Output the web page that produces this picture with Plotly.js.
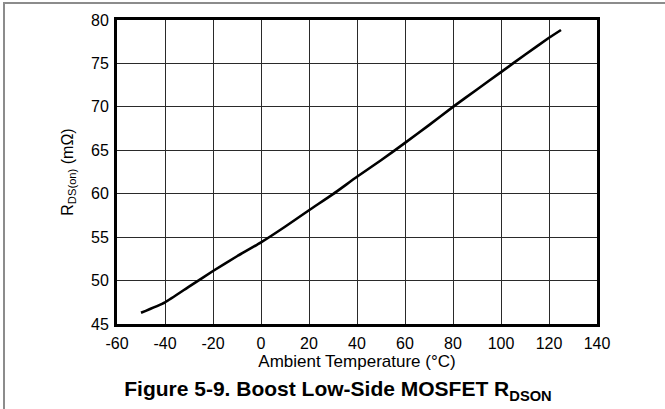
<!DOCTYPE html>
<html>
<head>
<meta charset="utf-8">
<script src="https://cdn.plot.ly/plotly-3.0.1.min.js"></script>
<style>
  html, body { margin: 0; padding: 0; background: #fff; }
  #wrap { position: relative; width: 665px; height: 409px; overflow: hidden; }
  #chart { position: absolute; left: 0; top: 0; width: 665px; height: 409px; }
  #frame { position: absolute; left: 3px; top: 2px; right: 0; bottom: 0;
           border-top: 2px solid #8c8c8c; border-left: 2px solid #8c8c8c;
           pointer-events: none; }
</style>
</head>
<body>
<div id="wrap">
  <div id="chart"></div>
  <div id="frame"></div>
</div>
<script>
// Ambient temperature (°C) and low-side MOSFET on-resistance (mΩ)
const temperature = [-50, -40, -30, -20, -10, 0, 10, 20, 30, 40, 50, 60, 70, 80, 90, 100, 110, 120, 125];
const rdsOn = [46.3, 47.5, 49.3, 51.1, 52.8, 54.4, 56.2, 58.1, 59.95, 61.95, 63.85, 65.85, 67.9, 70.0, 72.0, 74.0, 76.0, 77.95, 78.85];

const xTicks = [-60, -40, -20, 0, 20, 40, 60, 80, 100, 120, 140];
const yTicks = [45, 50, 55, 60, 65, 70, 75, 80];

const FONT = '"Liberation Sans", Arial, sans-serif';

const trace = {
  x: temperature,
  y: rdsOn,
  type: 'scatter',
  mode: 'lines',
  line: { color: '#000', width: 2.6, shape: 'spline', smoothing: 0.5 },
  hoverinfo: 'skip'
};

const axisCommon = {
  showline: true,
  mirror: true,
  linecolor: '#000',
  linewidth: 3,
  showgrid: true,
  gridcolor: '#2a2a2a',
  gridwidth: 1,
  zeroline: false,
  ticks: '',
  tickfont: { family: FONT, size: 16, color: '#000' },
  fixedrange: true
};

const layout = {
  width: 665,
  height: 409,
  margin: { l: 117, r: 68, t: 20, b: 85 },
  paper_bgcolor: '#fff',
  plot_bgcolor: '#fff',
  showlegend: false,
  font: { family: FONT, color: '#000' },
  title: {
    text: '<b>Figure 5-9. Boost Low-Side MOSFET R<sub>DSON</sub></b>',
    font: { family: FONT, size: 21, color: '#000' },
    x: 338 / 665,
    xanchor: 'center',
    xref: 'container',
    y: 1 - 389 / 409,
    yanchor: 'middle',
    yref: 'container'
  },
  xaxis: Object.assign({}, axisCommon, {
    range: [-60, 140],
    tickmode: 'array',
    tickvals: xTicks,
    ticktext: xTicks.map(String),
    ticklabelstandoff: 3,
    title: {
      text: 'Ambient Temperature (°C)',
      font: { family: FONT, size: 17, color: '#000' },
      standoff: 1
    }
  }),
  yaxis: Object.assign({}, axisCommon, {
    range: [45, 80],
    tickmode: 'array',
    tickvals: yTicks,
    ticktext: yTicks.map(String),
    ticklabelstandoff: 2,
    title: {
      text: 'R<sub>DS(on)</sub> (mΩ)',
      font: { family: FONT, size: 16, color: '#000' },
      standoff: 14
    }
  })
};

Plotly.newPlot('chart', [trace], layout, { staticPlot: true, displayModeBar: false });
</script>
</body>
</html>
